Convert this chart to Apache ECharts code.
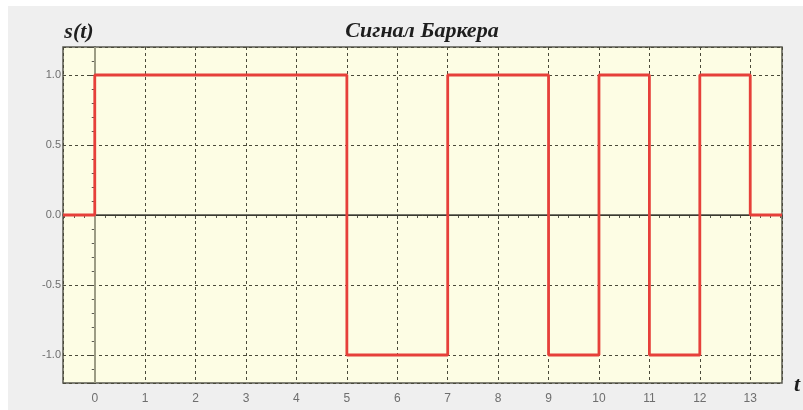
<!DOCTYPE html>
<html>
<head>
<meta charset="utf-8">
<script src="https://cdn.jsdelivr.net/npm/echarts@6/dist/echarts.min.js"></script>
<style>
  html, body { margin: 0; padding: 0; background: #ffffff; }
  #wrap { position: relative; width: 803px; height: 410px; background: #ffffff; }
  #chart { position: absolute; left: 8px; top: 6px; width: 795px; height: 404px; }
</style>
</head>
<body>
<div id="wrap"><div id="chart"></div></div>
<script>
// 13-chip Barker code, one chip per unit of time
const chipStart = [0, 1, 2, 3, 4, 5, 6, 7, 8, 9, 10, 11, 12];
const barkerCode = [1, 1, 1, 1, 1, -1, -1, 1, 1, -1, 1, -1, 1];
const codeEnd = 13;

// visible time and amplitude ranges
const tRange = [-0.63, 13.63];
const sRange = [-1.2, 1.2];

// step signal: zero before and after the code
const signal = [[tRange[0], 0]];
chipStart.forEach((t, i) => signal.push([t, barkerCode[i]]));
signal.push([codeEnd, 0]);
signal.push([tRange[1], 0]);

const chart = echarts.init(document.getElementById('chart'));
const dashGrid = { show: true, lineStyle: { color: '#4a4a3a', type: [3, 3], width: 1 } };
const labelStyle = { color: '#6e6e6e', fontFamily: 'Liberation Sans, Arial, sans-serif' };
const serifBI = 'italic bold 22px "Liberation Serif", "DejaVu Serif", serif';

chart.setOption({
  backgroundColor: '#efefef',
  animation: false,
  grid: {
    left: 55, top: 41, width: 719, height: 336,
    show: true, backgroundColor: '#fdfde4',
    borderColor: '#5a5a50', borderWidth: 1.5
  },
  xAxis: {
    type: 'value', min: tRange[0], max: tRange[1], splitNumber: 14,
    axisLine: { show: true, lineStyle: { color: '#4a4a40', width: 1.5 } },
    axisTick: { show: true, length: 4, inside: false, lineStyle: { color: '#4a4a40' } },
    minorTick: { show: true, splitNumber: 5, length: 3, lineStyle: { color: '#5a5a50' } },
    axisLabel: Object.assign({ fontSize: 12, margin: 10, showMinLabel: false, showMaxLabel: false }, labelStyle),
    splitLine: dashGrid
  },
  yAxis: {
    type: 'value', min: sRange[0], max: sRange[1], splitNumber: 5,
    axisLine: { show: true, lineStyle: { color: '#4a4a40', width: 1.5 } },
    axisTick: { show: true, length: 5, inside: false, lineStyle: { color: '#4a4a40' } },
    minorTick: { show: true, splitNumber: 5, length: 3, lineStyle: { color: '#5a5a50' } },
    axisLabel: Object.assign({
      fontSize: 11, margin: 2, showMinLabel: false, showMaxLabel: false,
      formatter: v => v.toFixed(1)
    }, labelStyle),
    splitLine: dashGrid
  },
  graphic: [
    { type: 'text', x: 414, y: 25,
      style: { text: 'Сигнал Баркера', font: serifBI, fill: '#1e1e1e', textAlign: 'center', textVerticalAlign: 'middle' } },
    { type: 'text', x: 71, y: 26,
      style: { text: 's(t)', font: serifBI, fill: '#1e1e1e', textAlign: 'center', textVerticalAlign: 'middle' } },
    { type: 'text', x: 789, y: 379,
      style: { text: 't', font: serifBI, fill: '#1e1e1e', textAlign: 'center', textVerticalAlign: 'middle' } }
  ],
  series: [{
    type: 'line',
    data: signal,
    step: 'end',
    showSymbol: false,
    symbol: 'none',
    lineStyle: { color: '#e6403a', width: 2.8 },
    z: 5,
    markLine: {
      silent: true, symbol: 'none', label: { show: false }, z: 3,
      data: [
        { yAxis: 0, lineStyle: { color: '#3a3a30', type: 'solid', width: 1 } },
        { xAxis: 0, lineStyle: { color: '#9c9c84', type: 'solid', width: 2 } }
      ]
    }
  }]
});
</script>
</body>
</html>
